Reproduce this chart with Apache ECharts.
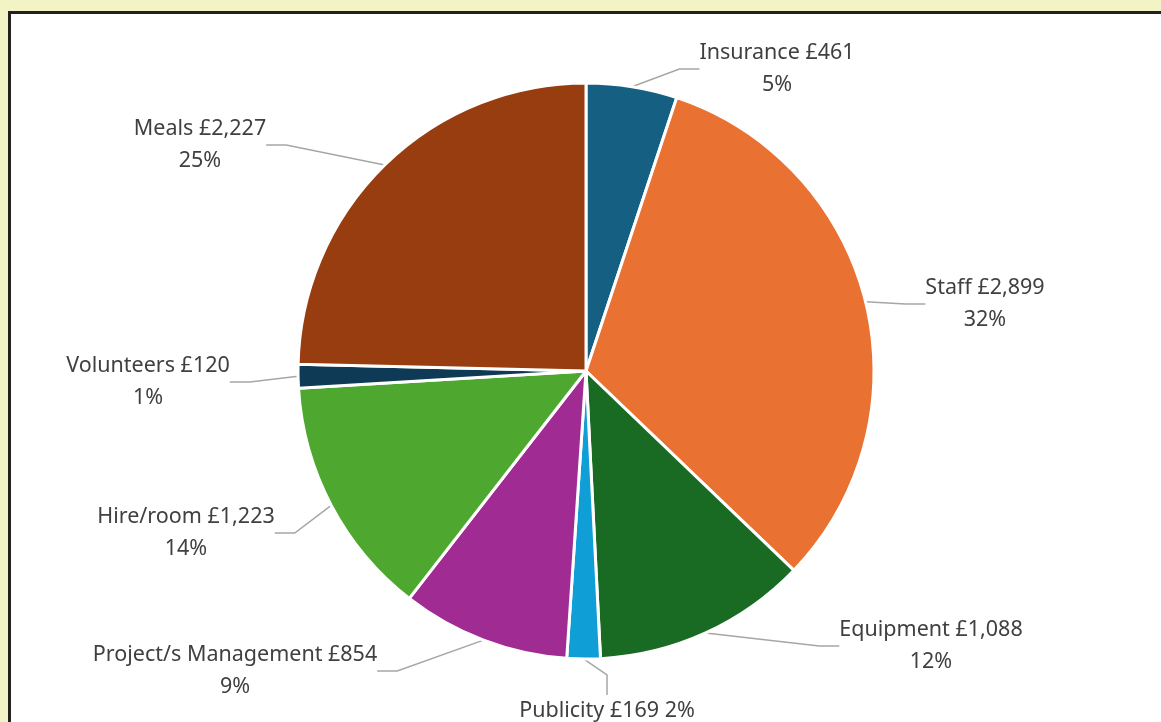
<!DOCTYPE html>
<html>
<head>
<meta charset="utf-8">
<script src="https://cdn.jsdelivr.net/npm/echarts@6/dist/echarts.min.js"></script>
<style>
    html, body { margin: 0; padding: 0; width: 100%; height: 100%; overflow: hidden; background: #F3F4C6; }
    #frame { position: absolute; left: 8px; top: 11px; width: 1300px; height: 900px; border-top: 3px solid #222; border-left: 3px solid #222; background: #fff; }
    #chart { position: absolute; left: 0; top: 0; width: 1161px; height: 722px; }
</style>
</head>
<body>
<div id="frame"></div>
<div id="chart"></div>
<script>
const categories = ['Insurance', 'Staff', 'Equipment', 'Publicity', 'Project/s Management', 'Hire/room', 'Volunteers', 'Meals'];
const amounts = [461, 2899, 1088, 169, 854, 1223, 120, 2227];
const colors = ['#156082', '#E97132', '#196B24', '#0F9ED5', '#A02B93', '#4EA72E', '#0E3A55', '#983D0F'];

// label centres (px) chosen to match the reference layout
const labelSpots = [
    [777, 69], [985, 304], [931, 646], [607, 711],
    [235, 671], [186, 533], [148, 382], [200, 145]
];

function fmtMoney(v) {
    return '£' + v.toLocaleString('en-GB');
}

const chart = echarts.init(document.getElementById('chart'));

const option = {
    backgroundColor: 'transparent',
    animation: false,
    series: [{
        type: 'pie',
        center: [586, 371],
        radius: 288,
        startAngle: 90,
        clockwise: true,
        avoidLabelOverlap: false,
        itemStyle: { borderColor: '#fff', borderWidth: 3 },
        label: {
            show: true,
            position: 'outside',
            color: '#404040',
            fontFamily: 'Noto Sans',
            fontSize: 21.5,
            lineHeight: 32,
            align: 'center',
            formatter: p => p.name === 'Publicity'
                ? p.name + ' ' + fmtMoney(p.value) + ' ' + Math.round(p.percent) + '%'
                : p.name + ' ' + fmtMoney(p.value) + '\n' + Math.round(p.percent) + '%'
        },
        labelLine: { show: true, length: 20, length2: 20, lineStyle: { color: '#A6A6A6', width: 1.5 } },
        labelLayout: function (params) {
            const spot = labelSpots[params.dataIndex];
            return {
                x: spot[0],
                y: spot[1],
                align: 'center',
                verticalAlign: 'middle'
            };
        },
        data: categories.map((name, i) => ({
            name: name,
            value: amounts[i],
            itemStyle: { color: colors[i] }
        }))
    }]
};

chart.setOption(option);
</script>
</body>
</html>
